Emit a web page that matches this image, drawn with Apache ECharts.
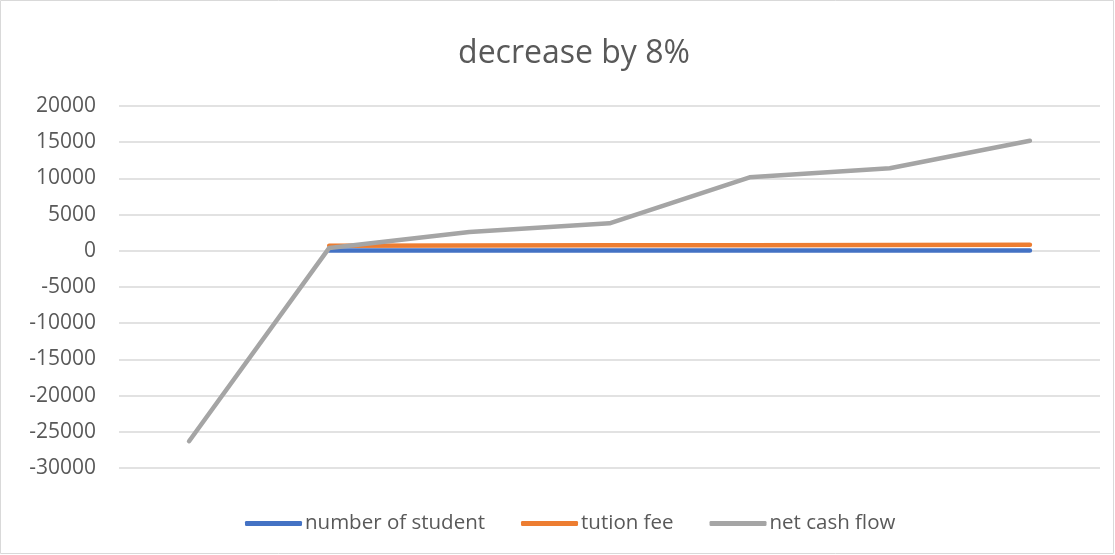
<!DOCTYPE html>
<html>
<head>
<meta charset="utf-8">
<script src="https://cdn.jsdelivr.net/npm/echarts@6/dist/echarts.min.js"></script>
<style>
    html, body { margin: 0; padding: 0; background: #fff; }
    #chart { width: 1115px; height: 555px; }
</style>
</head>
<body>
<div id="chart"></div>
<script>
// data
var categories = ['1', '2', '3', '4', '5', '6', '7'];
var numberOfStudent = [null, 30, 35, 40, 45, 50, 55];
var tutionFee = [null, 700, 720, 750, 780, 800, 840];
var netCashFlow = [-26300, 400, 2600, 3800, 10150, 11400, 15200];
var yTicks = [-30000, 20000, 5000]; // min, max, step

var myChart = echarts.init(document.getElementById('chart'));

function lineSeries(name, data, color) {
    return {
        name: name,
        type: 'line',
        data: data,
        symbol: 'none',
        connectNulls: false,
        lineStyle: { color: color, width: 4.5, cap: 'round', join: 'round' },
        itemStyle: { color: color }
    };
}

var option = {
    animation: false,
    title: {
        text: 'decrease by 8%',
        left: 569,
        textAlign: 'center',
        top: 33,
        textStyle: { color: '#595959', fontSize: 32, fontWeight: 'normal', fontFamily: 'Open Sans' }
    },
    graphic: [{
        type: 'rect',
        shape: { x: 0.5, y: 0.5, width: 1113, height: 553 },
        style: { fill: 'none', stroke: '#d9d9d9', lineWidth: 1 },
        silent: true
    }],
    legend: {
        top: 513,
        left: 245,
        padding: 0,
        itemWidth: 57,
        itemHeight: 5,
        itemGap: 36,
        icon: 'roundRect',
        textStyle: { color: '#595959', fontSize: 20.5, fontFamily: 'Open Sans', padding: [0, 0, 0, -2] },
        data: ['number of student', 'tution fee', 'net cash flow']
    },
    grid: {
        left: 119,
        right: 15,
        top: 106,
        bottom: 87,
        containLabel: false
    },
    xAxis: {
        type: 'category',
        data: categories,
        boundaryGap: true,
        axisLine: { show: false },
        axisTick: { show: false },
        axisLabel: { show: false }
    },
    yAxis: {
        type: 'value',
        min: yTicks[0],
        max: yTicks[1],
        interval: yTicks[2],
        axisLine: { show: false },
        axisTick: { show: false },
        axisLabel: {
            color: '#595959',
            fontSize: 21,
            fontFamily: 'Open Sans',
            margin: 23,
            formatter: function (v) { return String(v); }
        },
        splitLine: { lineStyle: { color: '#d9d9d9', width: 1.5 } }
    },
    series: [
        lineSeries('number of student', numberOfStudent, '#4472c4'),
        lineSeries('tution fee', tutionFee, '#ed7d31'),
        lineSeries('net cash flow', netCashFlow, '#a5a5a5')
    ]
};
myChart.setOption(option);
</script>
</body>
</html>
